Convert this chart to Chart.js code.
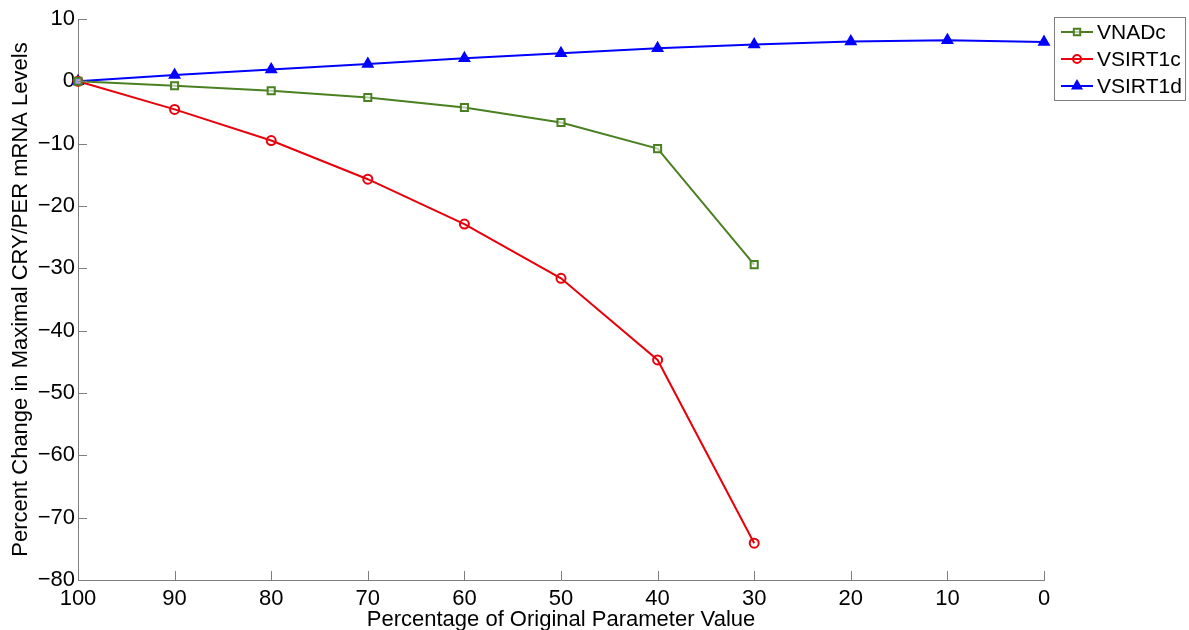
<!DOCTYPE html>
<html>
<head>
<meta charset="utf-8">
<script src="https://cdn.jsdelivr.net/npm/chart.js@4"></script>
<style>
  html, body { margin: 0; padding: 0; background: #fff; }
  #wrap { width: 1189px; height: 630px; position: relative; }
</style>
</head>
<body>
<div id="wrap"><canvas id="chart"></canvas></div>
<script>
'use strict';
// x values (percentage of original parameter value)
const xFull = [100, 90, 80, 70, 60, 50, 40, 30, 20, 10, 0];
const xShort = [100, 90, 80, 70, 60, 50, 40, 30];

const vnadc = [0, -0.7, -1.5, -2.6, -4.2, -6.6, -10.8, -29.4];
const vsirt1c = [0, -4.5, -9.5, -15.7, -22.9, -31.6, -44.7, -74.1];
const vsirt1d = [0, 1.0, 1.9, 2.8, 3.7, 4.5, 5.3, 5.9, 6.4, 6.6, 6.3];

const xTicks = [100, 90, 80, 70, 60, 50, 40, 30, 20, 10, 0];
const yTicks = [10, 0, -10, -20, -30, -40, -50, -60, -70, -80];

const FONT = '"Liberation Sans", Arial, Helvetica, sans-serif';
const FSIZE = 22;
const AXIS_GRAY = '#7f7f7f';

const pts = (xs, ys) => ys.map((y, i) => ({ x: xs[i], y: y }));
const fmt = v => (v < 0 ? '\u2212' + Math.abs(v) : String(v));

// MATLAB style inward tick marks
const innerTicks = {
    id: 'innerTicks',
    afterDatasetsDraw(chart) {
        const ctx = chart.ctx;
        const xs = chart.scales.x, ys = chart.scales.y;
        const a = chart.chartArea;
        ctx.save();
        ctx.strokeStyle = AXIS_GRAY;
        ctx.lineWidth = 1;
        ctx.beginPath();
        xTicks.forEach(v => {
            const px = Math.round(xs.getPixelForValue(v)) + 0.5;
            ctx.moveTo(px, a.bottom);
            ctx.lineTo(px, a.bottom - 9);
        });
        yTicks.forEach(v => {
            const py = Math.round(ys.getPixelForValue(v)) + 0.5;
            ctx.moveTo(a.left, py);
            ctx.lineTo(a.left + 9, py);
        });
        ctx.stroke();
        ctx.restore();
    }
};

// boxed legend in the top right corner
const boxLegend = {
    id: 'boxLegend',
    afterDraw(chart) {
        const ctx = chart.ctx;
        const box = { x: 1054.5, y: 17.5, w: 131, h: 83 };
        ctx.save();
        ctx.fillStyle = '#fff';
        ctx.fillRect(box.x, box.y, box.w, box.h);
        ctx.strokeStyle = AXIS_GRAY;
        ctx.lineWidth = 1;
        ctx.strokeRect(box.x, box.y, box.w, box.h);
        const rows = [32, 59, 86];
        chart.data.datasets.forEach((ds, i) => {
            const y = rows[i];
            ctx.strokeStyle = ds.borderColor;
            ctx.lineWidth = 2;
            ctx.beginPath();
            ctx.moveTo(1061, y);
            ctx.lineTo(1093, y);
            ctx.stroke();
            ctx.strokeStyle = ds.pointBorderColor;
            ctx.fillStyle = ds.pointBackgroundColor;
            ctx.lineWidth = ds.pointBorderWidth;
            Chart.helpers.drawPoint(ctx, {
                pointStyle: ds.pointStyle,
                radius: ds.pointRadius - 0.5,
                borderWidth: ds.pointBorderWidth,
                rotation: 0
            }, 1077, y);
            ctx.fillStyle = '#000';
            ctx.font = '21px ' + FONT;
            ctx.textBaseline = 'middle';
            ctx.textAlign = 'left';
            ctx.fillText(ds.label, 1097, y + 1);
        });
        ctx.restore();
    }
};

new Chart(document.getElementById('chart'), {
    type: 'line',
    data: {
        datasets: [
            {
                label: 'VNADc',
                data: pts(xShort, vnadc),
                borderColor: '#4a8022',
                backgroundColor: '#fff',
                borderWidth: 2,
                pointStyle: 'rect',
                pointRadius: 5,
                pointBorderWidth: 2,
                pointBorderColor: '#4a8022',
                pointBackgroundColor: 'rgba(255,255,255,0.6)'
            },
            {
                label: 'VSIRT1c',
                data: pts(xShort, vsirt1c),
                borderColor: '#e8000b',
                backgroundColor: '#fff',
                borderWidth: 2,
                pointStyle: 'circle',
                pointRadius: 4.5,
                pointBorderWidth: 2,
                pointBorderColor: '#e8000b',
                pointBackgroundColor: 'rgba(255,255,255,0)'
            },
            {
                label: 'VSIRT1d',
                data: pts(xFull, vsirt1d),
                borderColor: '#0000ff',
                backgroundColor: '#fff',
                borderWidth: 2,
                pointStyle: 'triangle',
                pointRadius: 5,
                pointBorderWidth: 2.5,
                pointBorderColor: '#0000ff',
                pointBackgroundColor: '#0000ff'
            }
        ]
    },
    options: {
        responsive: true,
        maintainAspectRatio: false,
        animation: false,
        clip: false,
        layout: { padding: { top: 19, right: 145, left: 0, bottom: 0 } },
        plugins: {
            legend: { display: false },
            tooltip: { enabled: false }
        },
        scales: {
            x: {
                type: 'linear',
                reverse: true,
                min: 0,
                max: 100,
                afterBuildTicks: s => { s.ticks = xTicks.map(v => ({ value: v })); },
                afterFit: s => { s.height = 50; },
                grid: { display: false, drawTicks: false },
                border: { display: true, color: AXIS_GRAY, width: 1 },
                ticks: { color: '#000', font: { family: FONT, size: FSIZE }, padding: 6, maxRotation: 0, callback: fmt },
                title: {
                    display: true,
                    text: 'Percentage of Original Parameter Value',
                    color: '#000',
                    font: { family: FONT, size: FSIZE },
                    padding: { top: 0, bottom: -3 }
                }
            },
            y: {
                type: 'linear',
                min: -80,
                max: 10,
                afterBuildTicks: s => { s.ticks = yTicks.map(v => ({ value: v })); },
                afterFit: s => { s.width = 78; },
                grid: { display: false, drawTicks: false },
                border: { display: true, color: AXIS_GRAY, width: 1 },
                ticks: { color: '#000', font: { family: FONT, size: FSIZE }, padding: 3, callback: fmt },
                title: {
                    display: true,
                    text: 'Percent Change in Maximal CRY/PER mRNA Levels',
                    color: '#000',
                    font: { family: FONT, size: FSIZE },
                    padding: { top: 8, bottom: 0 }
                }
            }
        }
    },
    plugins: [innerTicks, boxLegend]
});
</script>
</body>
</html>
